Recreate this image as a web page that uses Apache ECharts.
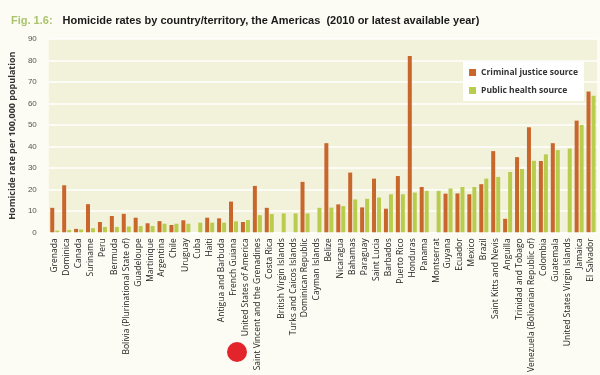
<!DOCTYPE html>
<html>
<head>
<meta charset="utf-8">
<script src="https://cdn.jsdelivr.net/npm/echarts@6/dist/echarts.min.js"></script>
<style>
    html, body { margin: 0; padding: 0; background: #fcfcf4; }
    #chart { width: 600px; height: 375px; }
</style>
</head>
<body>
<div id="chart"></div>
<script>
    const countries = ['Grenada', 'Dominica', 'Canada', 'Suriname', 'Peru', 'Bermuda',
        'Bolivia (Plurinational State of)', 'Guadeloupe', 'Martinique', 'Argentina', 'Chile', 'Uruguay',
        'Cuba', 'Haiti', 'Antigua and Barbuda', 'French Guiana', 'United States of America',
        'Saint Vincent and the Grenadines', 'Costa Rica', 'British Virgin Islands',
        'Turks and Caicos Islands', 'Dominican Republic', 'Cayman Islands', 'Belize', 'Nicaragua',
        'Bahamas', 'Paraguay', 'Saint Lucia', 'Barbados', 'Puerto Rico', 'Honduras', 'Panama',
        'Montserrat', 'Guyana', 'Ecuador', 'Mexico', 'Brazil', 'Saint Kitts and Nevis', 'Anguilla',
        'Trinidad and Tobago', 'Venezuela (Bolivarian Republic of)', 'Colombia', 'Guatemala',
        'United States Virgin Islands', 'Jamaica', 'El Salvador']

    // null = no figure from that source
    const criminalJustice = [11.4, 21.9, 1.6, 13.1, 4.8, 7.6, 8.6, 6.8, 4.2, 5.2, 3.4, 5.6,
        null, 6.8, 6.5, 14.3, 4.8, 21.6, 11.4, null, null, 23.5, null, 41.5, 13.0, 27.8, 11.6,
        25.0, 11.0, 26.2, 82.1, 21.1, null, 18.0, 18.1, 17.7, 22.4, 37.8, 6.3, 35.0, 48.9,
        33.2, 41.5, null, 52.0, 65.6]
    const publicHealth = [0.8, 1.1, 1.3, 1.9, 2.5, 2.5, 2.7, 2.9, 2.9, 4.0, 4.0, 4.0,
        4.5, 4.5, 4.5, 5.1, 5.7, 8.0, 8.5, 8.8, 8.8, 8.8, 11.4, 11.5, 12.2, 15.3, 15.6,
        16.2, 17.7, 17.7, 18.5, 19.3, 19.3, 20.4, 21.1, 21.1, 25.0, 25.8, 28.1, 29.5, 33.3,
        36.3, 38.3, 39.0, 50.0, 63.6]
    const yTicks = [0, 90, 10]

    let chart = echarts.init(document.getElementById('chart'))
    chart.setOption({
        backgroundColor: '#fcfcf4',
        animation: false,
        title: {
            left: 6,
            top: 7,
            text: '{fig|Fig. 1.6:}  {main|Homicide rates by country/territory, the Americas  (2010 or latest available year)}',
            textStyle: {
                rich: {
                    fig: { color: '#a9c46a', fontSize: 11, fontFamily: 'Liberation Sans' },
                    main: { color: '#1a1a1a', fontSize: 11, fontWeight: 'bold', fontFamily: 'Liberation Sans' }
                }
            }
        },
        legend: {
            orient: 'vertical',
            right: 16,
            top: 62,
            backgroundColor: '#ffffff',
            padding: [6, 6, 6, 6],
            itemGap: 9,
            itemWidth: 7,
            itemHeight: 7,
            icon: 'rect',
            textStyle: { fontSize: 8.5, fontWeight: 'bold', color: '#333', fontFamily: 'Open Sans' },
            data: ['Criminal justice source', 'Public health source']
        },
        grid: {
            left: 40,
            right: 3,
            top: 39,
            bottom: 141,
            show: true,
            backgroundColor: '#f2f2db',
            borderWidth: 0
        },
        xAxis: {
            type: 'category',
            data: countries,
            axisLine: { show: true, lineStyle: { color: '#ffffff', width: 1 } },
            axisTick: { show: false },
            axisLabel: {
                interval: 0,
                rotate: 90,
                fontSize: 8.5,
                color: '#222',
                margin: 6,
                fontFamily: 'Open Sans'
            }
        },
        yAxis: {
            type: 'value',
            min: yTicks[0],
            max: yTicks[1],
            interval: yTicks[2],
            name: 'Homicide rate per 100,000 population',
            nameLocation: 'middle',
            nameGap: 26,
            nameTextStyle: { fontSize: 9, fontWeight: 'bold', color: '#333', fontFamily: 'Open Sans' },
            axisLine: { show: false },
            axisTick: { show: false },
            axisLabel: { fontSize: 8, color: '#555', margin: 12 },
            splitLine: { lineStyle: { color: '#ffffff', width: 1.5 } }
        },
        series: [{
            name: 'Criminal justice source',
            type: 'bar',
            data: criminalJustice,
            barWidth: 4,
            barGap: '25%',
            itemStyle: { color: '#c8662c' }
        }, {
            name: 'Public health source',
            type: 'bar',
            data: publicHealth,
            barWidth: 4,
            itemStyle: { color: '#b8cc4e' }
        }],
        graphic: [{
            type: 'circle',
            left: 227,
            top: 342,
            shape: { r: 10 },
            style: { fill: '#e4242b' }
        }]
    })
</script>
</body>
</html>
